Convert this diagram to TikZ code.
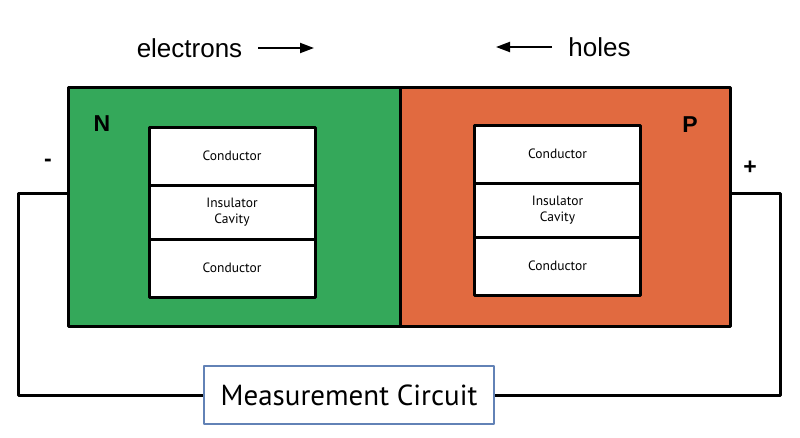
\documentclass[tikz,border=0pt]{standalone}
\usepackage{fontspec}
\setmainfont{Liberation Sans}
\newfontfamily\myriad{PT Sans}
\usetikzlibrary{positioning,arrows.meta}
\definecolor{ngreen}{RGB}{52,168,90}
\definecolor{porange}{RGB}{225,106,64}
\definecolor{mblue}{RGB}{98,130,182}
\begin{document}
\begin{tikzpicture}[x=1pt, y=-1pt, line join=round, >={Triangle[length=14pt,width=10pt]},
	region/.style={draw, line width=3pt, minimum width=332pt, minimum height=239pt, inner sep=0pt, outer sep=0pt},
	layer/.style={draw, fill=white, line width=3pt, minimum width=166pt, minimum height=58pt, inner sep=0pt, outer sep=0pt, align=center, font=\myriad\fontsize{13.5}{16}\selectfont},
	wire/.style={line width=3pt},
	flow/.style={->, line width=2pt},
	lbl/.style={font=\fontsize{26}{30}\selectfont},
	sign/.style={font=\bfseries\fontsize{23}{23}\selectfont}]
	\useasboundingbox (0,0) rectangle (800,437);
	% hai vùng N, P
	\node[region, fill=ngreen] (nreg) at (234,206.5) {};
	\node[region, fill=porange, minimum width=330pt] (preg) at (565,206.5) {};
	\node[sign] (nlab) at (102,124) {N};
	\node[sign] (plab) at (690,125) {P};
	% các lớp bên trong
	\node[layer] (ncondA) at (232,156) {Conductor};
	\node[layer, minimum height=54pt, below=0pt of ncondA] (nins) {Insulator\\Cavity};
	\node[layer, below=0pt of nins] (ncondB) {Conductor};
	\node[layer] (pcondA) at (557.5,154) {Conductor};
	\node[layer, minimum height=54pt, below=0pt of pcondA] (pins) {Insulator\\Cavity};
	\node[layer, below=0pt of pins] (pcondB) {Conductor};
	% hạt tải
	\node[lbl] (elec) at (189.5,48) {electrons};
	\coordinate (ea) at (258,48); \coordinate (eb) at (314,48);
	\draw[flow] (ea) -- (eb);
	\node[lbl] (hole) at (599.5,47) {holes};
	\coordinate (ha) at (552,47); \coordinate (hb) at (496,47);
	\draw[flow] (ha) -- (hb);
	% mạch đo
	\node[draw=mblue, line width=2.5pt, fill=white, minimum width=290pt, minimum height=58pt, font=\myriad\fontsize{29}{32}\selectfont] (meas) at (349,395) {Measurement Circuit};
	\coordinate (nwire) at (68,193);
	\coordinate (pwire) at (730,193);
	\draw[wire] (nwire) -- (18,193) |- (meas.west);
	\draw[wire] (pwire) -- (780,193) |- (meas.east);
	\node[sign] (minus) at (48,163) {-};
	\node[sign] (plus) at (750,168) {+};
\end{tikzpicture}
\end{document}
